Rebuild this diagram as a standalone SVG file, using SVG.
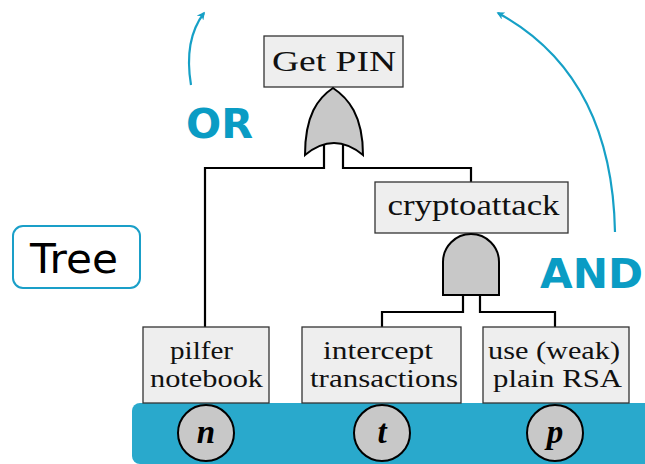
<svg xmlns="http://www.w3.org/2000/svg" width="645" height="464" viewBox="0 0 645 464">
<defs>
<style>
.box{fill:#eeeeee;stroke:#333333;stroke-width:1.3}
.gate{fill:#c8c8c8;stroke:#000;stroke-width:2}
.wire{fill:none;stroke:#000;stroke-width:2.2}
.lbl{font-family:"Liberation Serif",serif;font-size:29px;fill:#111;text-anchor:middle}
.lbl2{font-family:"Liberation Serif",serif;font-size:25px;fill:#111;text-anchor:middle}
.var{font-family:"Liberation Serif",serif;font-size:33px;font-style:italic;font-weight:bold;fill:#000;text-anchor:middle}
.big{font-family:"DejaVu Sans",sans-serif;font-weight:bold;font-size:40px;fill:#0a9cc4}
.arr{fill:none;stroke:#16a0c6;stroke-width:2.2}
</style>
<marker id="ah" viewBox="0 0 10 10" refX="8" refY="5" markerWidth="8" markerHeight="8" orient="auto" markerUnits="userSpaceOnUse">
<path d="M0,0 L10,5 L0,10 L3,5 Z" fill="#16a0c6"/>
</marker>
</defs>
<rect id="band" x="132" y="403" width="530" height="61" rx="8" fill="#29a9cc"/>
<g id="connectors">
<path class="wire" d="M324,145 V168 H205 V327"/>
<path class="wire" d="M343,145 V168 H471 V182"/>
<path class="wire" d="M463,295 V312 H382 V327"/>
<path class="wire" d="M480,295 V312 H555 V327"/>
<path class="arr" d="M191,85 C186,55 191,30 204,13" marker-end="url(#ah)"/>
<path class="arr" d="M615,232 Q612,75 498,13" marker-end="url(#ah)"/>
</g>
<g id="getpin">
<rect class="box" x="264" y="36" width="139" height="51"/>
<text class="lbl" x="334" y="71" textLength="124" lengthAdjust="spacingAndGlyphs">Get PIN</text>
</g>
<g id="or-gate">
<path class="gate" d="M333,88 C318,98 305,115 305,155 Q334,131 363,155 C363,115 348,98 333,88 Z"/>
</g>
<g id="cryptoattack">
<rect class="box" x="375" y="182" width="193" height="51"/>
<text class="lbl" x="473.5" y="215" textLength="172" lengthAdjust="spacingAndGlyphs">cryptoattack</text>
</g>
<g id="and-gate">
<path class="gate" d="M443,295 L443,262 A28,28 0 0 1 499,262 L499,295 Z"/>
</g>
<g id="pilfer">
<rect class="box" x="143" y="327" width="126" height="76"/>
<text class="lbl2" x="201.5" y="359" textLength="63" lengthAdjust="spacingAndGlyphs">pilfer</text>
<text class="lbl2" x="206.5" y="387" textLength="113" lengthAdjust="spacingAndGlyphs">notebook</text>
</g>
<g id="intercept">
<rect class="box" x="302" y="327" width="159" height="76"/>
<text class="lbl2" x="378" y="359" textLength="110" lengthAdjust="spacingAndGlyphs">intercept</text>
<text class="lbl2" x="384" y="387" textLength="148" lengthAdjust="spacingAndGlyphs">transactions</text>
</g>
<g id="rsa">
<rect class="box" x="483" y="327" width="146" height="76"/>
<text class="lbl2" x="554" y="359" textLength="132" lengthAdjust="spacingAndGlyphs">use (weak)</text>
<text class="lbl2" x="557.5" y="387" textLength="129" lengthAdjust="spacingAndGlyphs">plain RSA</text>
</g>
<g id="var-n">
<circle class="gate" cx="206" cy="433" r="28"/>
<text class="var" x="206" y="443">n</text>
</g>
<g id="var-t">
<circle class="gate" cx="382" cy="433" r="28"/>
<text class="var" x="382" y="443">t</text>
</g>
<g id="var-p">
<circle class="gate" cx="555" cy="433" r="28"/>
<text class="var" x="555" y="443">p</text>
</g>
<g id="tree">
<rect x="13" y="226" width="127" height="62" rx="10" fill="#fff" stroke="#1a9fc8" stroke-width="2"/>
<text x="74" y="273" font-family="DejaVu Sans, sans-serif" font-size="40" fill="#000" text-anchor="middle" textLength="88" lengthAdjust="spacingAndGlyphs">Tree</text>
</g>
<text class="big" x="186" y="138" textLength="67" lengthAdjust="spacingAndGlyphs">OR</text>
<text class="big" x="540" y="288" textLength="103" lengthAdjust="spacingAndGlyphs">AND</text>
</svg>
